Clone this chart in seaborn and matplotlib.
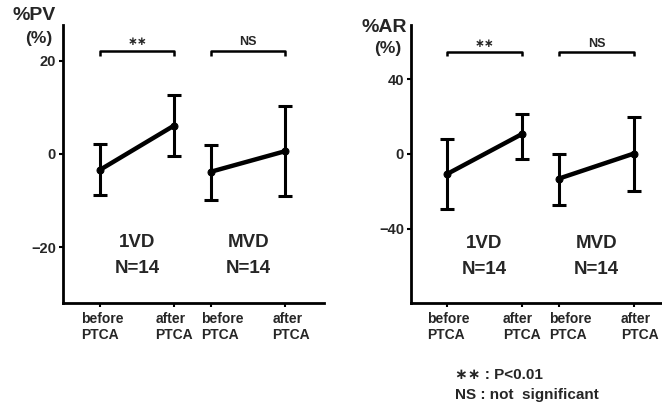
import matplotlib
matplotlib.use("Agg")
import matplotlib.pyplot as plt
import matplotlib.transforms as mtransforms
import seaborn as sns
import pandas as pd
import numpy as np

sns.set_theme(style="white")
plt.rcParams['font.family'] = ['Liberation Sans', 'DejaVu Sans']
plt.rcParams['font.weight'] = 'bold'

# ---- data ----
tick_pos = [0, 2, 3, 5]
tick_labels = ["before\nPTCA", "after\nPTCA", "before\nPTCA", "after\nPTCA"]
groups = ["1VD", "1VD", "MVD", "MVD"]

pv_mean = [-3.4, 6.1, -3.8, 0.6]
pv_sd_up = [5.5, 6.6, 5.8, 9.7]
pv_sd_dn = [5.4, 6.5, 6.1, 9.6]

ar_mean = [-10.9, 10.5, -13.2, 0.2]
ar_sd_up = [18.8, 10.8, 13.0, 19.4]
ar_sd_dn = [18.7, 13.0, 14.3, 20.0]

sig_labels = ["\u2217\u2217", "NS"]
group_names = ["1VD", "MVD"]
n_text = ["N=14", "N=14"]

fig = plt.figure(figsize=(6.62, 4.08), dpi=100)
ax1 = fig.add_axes([63/662, 1-303/408, (324-63)/662, (303-25)/408])
ax2 = fig.add_axes([411/662, 1-303/408, (662-411)/662, (303-25)/408])

label_shift_px = [2, 0, 11, 6]


def draw(ax, mean, up, dn, ylim, yticks, bracket_y, bracket_dy, sig_y, txt1_y, txt2_y, xlim):
    df = pd.DataFrame({"x": tick_pos, "y": mean, "g": groups})
    sns.lineplot(data=df, x="x", y="y", units="g", estimator=None, ax=ax,
                 color="black", lw=3.2, marker="o", markersize=5,
                 markeredgecolor="black")
    ax.errorbar(tick_pos, mean, yerr=[dn, up], fmt="none", ecolor="black",
                elinewidth=2.2, capsize=5, capthick=2.2)
    ax.set_xlim(*xlim)
    ax.set_ylim(*ylim)
    ax.set_yticks(yticks)
    ax.set_yticklabels([("\u2212" + str(-t)) if t < 0 else str(t) for t in yticks],
                       fontsize=10.5, fontweight="bold")
    ax.set_xticks(tick_pos)
    ax.set_xticklabels([""] * len(tick_pos))
    base = mtransforms.blended_transform_factory(ax.transData, ax.transAxes)
    for x, lab, dx in zip(tick_pos, tick_labels, label_shift_px):
        tr = base + mtransforms.ScaledTranslation(dx / 100, -9 / 100, fig.dpi_scale_trans)
        ax.text(x, 0, lab, transform=tr, ha="center", va="top", multialignment="left",
                fontsize=10, fontweight="bold", linespacing=1.2, clip_on=False)
    ax.set_xlabel("")
    ax.set_ylabel("")
    ax.tick_params(axis="both", direction="out", length=3, width=1.5, color="black",
                   pad=2, bottom=True, left=True)
    for s in ["top", "right"]:
        ax.spines[s].set_visible(False)
    for s in ["left", "bottom"]:
        ax.spines[s].set_linewidth(2.0)
        ax.spines[s].set_color("black")
    # brackets
    for (a, b), lab in zip([(0, 2), (3, 5)], sig_labels):
        ax.plot([a, a, b, b], [bracket_y - bracket_dy, bracket_y, bracket_y, bracket_y - bracket_dy],
                color="black", lw=1.8, solid_capstyle="butt")
        ax.text((a + b) / 2, sig_y, lab, ha="center", va="center",
                fontsize=9 if lab == "NS" else 8.5, fontweight="bold")
    for (a, b), g, n in zip([(0, 2), (3, 5)], group_names, n_text):
        ax.text((a + b) / 2, txt1_y, g, ha="center", va="center", fontsize=13.5, fontweight="bold")
        ax.text((a + b) / 2, txt2_y, n, ha="center", va="center", fontsize=13.5, fontweight="bold")


draw(ax1, pv_mean, pv_sd_up, pv_sd_dn, (-32, 27.7), [-20, 0, 20], 22.2, 1.2, 24.1,
     -19.1, -24.5, (-1, 6.05))
draw(ax2, ar_mean, ar_sd_up, ar_sd_dn, (-79.8, 69), [-40, 0, 40], 54.8, 2.4, 58.6,
     -47.8, -61.7, (-0.95, 5.75))

fig.text(34/662, 1-15/408, "%PV", ha="center", va="center", fontsize=14, fontweight="bold")
fig.text(39/662, 1-38/408, "(%)", ha="center", va="center", fontsize=12.5, fontweight="bold")
fig.text(384/662, 1-27/408, "%AR", ha="center", va="center", fontsize=14, fontweight="bold")
fig.text(388/662, 1-48/408, "(%)", ha="center", va="center", fontsize=12.5, fontweight="bold")

fig.text(455/662, 1-375/408, "\u2217\u2217 : P<0.01", ha="left", va="center", fontsize=11, fontweight="bold")
fig.text(455/662, 1-395/408, "NS : not  significant", ha="left", va="center", fontsize=11, fontweight="bold")

fig.savefig("out.png", dpi=100)
